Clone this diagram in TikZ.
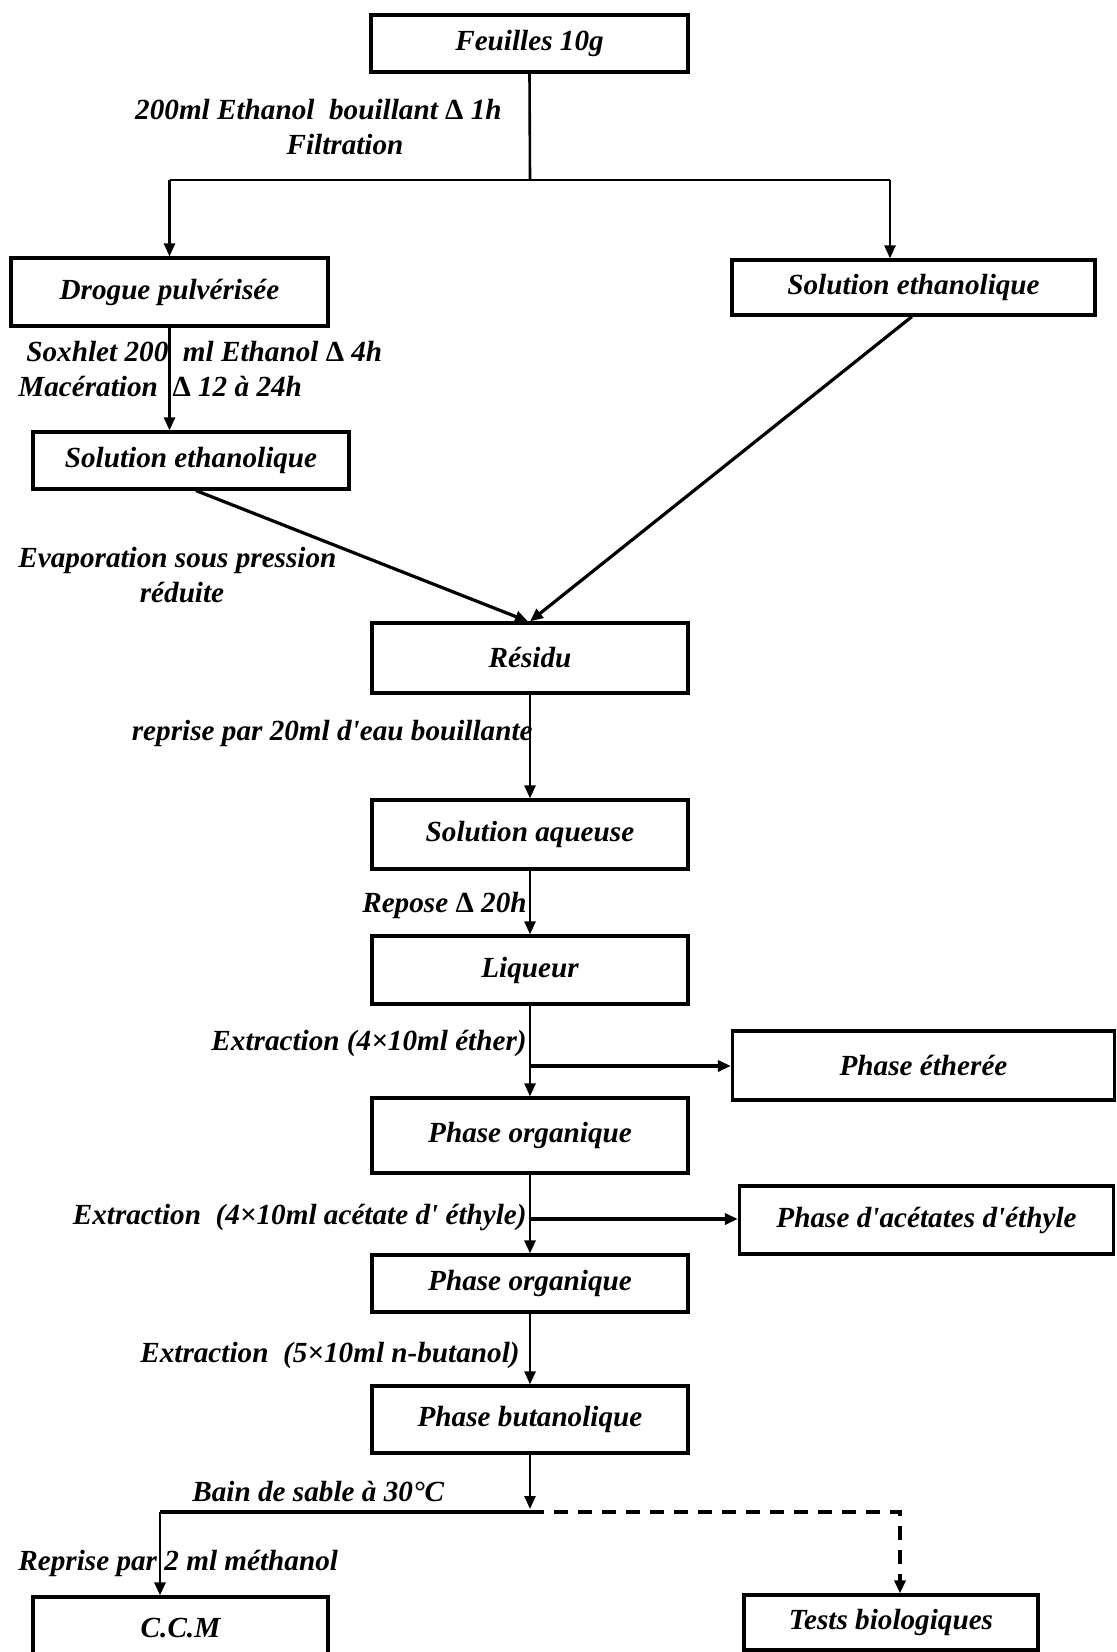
\documentclass[tikz,border=0pt]{standalone}
\usepackage{fontspec}
\setmainfont{Liberation Serif}
\usetikzlibrary{arrows.meta}
\newcommand\flowfont{\fontsize{14.6}{16.5}\selectfont\bfseries\itshape}
\newcommand\upD{{\upshape Δ}}
\newcommand\apos{\textquotesingle}
\begin{document}
\begin{tikzpicture}[x=0.5pt,y=-0.5pt,
  box/.style={draw, line width=1.6pt, inner sep=0pt, font=\flowfont},
  lab/.style={inner sep=0pt, font=\flowfont},
  conn/.style={line width=1.3pt},
  heavy/.style={line width=1.6pt},
  dashline/.style={line width=1.6pt, dash pattern=on 7pt off 5pt},
  arr/.style={-{Triangle[length=6.5pt,width=5.5pt]}}]
\fill[white] (0,0) rectangle (1117,1652);
\path[use as bounding box] (0,0) rectangle (1117,1652);
\clip (0,0) rectangle (1117,1652);

% boxes
\node[box, minimum width=158.5pt, minimum height=28.5pt] (feuilles) at (529.5,43.5) {Feuilles 10g};
\node[box, minimum width=158.5pt, minimum height=34pt] (drogue) at (169.5,292) {Drogue pulvérisée};
\node[box, minimum width=181.5pt, minimum height=27.5pt] (solR) at (913.5,287.5) {Solution ethanolique};
\node[box, minimum width=158pt, minimum height=28.5pt] (solL) at (191,460.5) {Solution ethanolique};
\node[box, minimum width=158pt, minimum height=35pt] (residu) at (530,658) {Résidu};
\node[box, minimum width=158pt, minimum height=34.5pt] (aqueuse) at (530,834.5) {Solution aqueuse};
\node[box, minimum width=158pt, minimum height=34pt] (liqueur) at (530,970) {Liqueur};
\node[box, minimum width=191pt, minimum height=34.5pt] (ether) at (923.5,1065.5) {Phase étherée};
\node[box, minimum width=158pt, minimum height=37.5pt] (org1) at (530,1135.5) {Phase organique};
\node[box, minimum width=187pt, minimum height=34pt] (acet) at (926.5,1220) {Phase d\apos acétates d\apos éthyle};
\node[box, minimum width=158pt, minimum height=28.5pt] (org2) at (530,1283.5) {Phase organique};
\node[box, minimum width=158pt, minimum height=33.5pt] (buta) at (530,1419.5) {Phase butanolique};
\node[box, minimum width=147.5pt, minimum height=31.5pt] (ccm) at (180.5,1628.5) {C.C.M};
\node[box, minimum width=147pt, minimum height=27.5pt] (tests) at (891,1622.5) {Tests biologiques};

% step labels
\node[lab, anchor=east] (l1) at (502,110) {200ml Ethanol\ \ bouillant \upD\ 1h};
\node[lab] (l1b) at (345,145) {Filtration};
\node[lab, anchor=west] (l2) at (26,352) {Soxhlet 200\ \ ml Ethanol \upD\ 4h};
\node[lab, anchor=west] (l3) at (18,387) {Macération\ \ \upD\ 12 à 24h};
\node[lab, anchor=west] (l4) at (18,560) {Evaporation sous pression};
\node[lab] (l4b) at (182,593) {réduite};
\node[lab, anchor=east] (l5) at (533,733) {reprise par 20ml d\apos eau bouillante};
\node[lab, anchor=east] (l6) at (527,905) {Repose \upD\ 20h};
\node[lab, anchor=east] (l7) at (527,1043) {Extraction (4×10ml éther)};
\node[lab, anchor=east] (l8) at (527,1217) {Extraction\ \ (4×10ml acétate d\apos\ éthyle)};
\node[lab, anchor=east] (l9) at (520,1355) {Extraction\ \ (5×10ml n-butanol)};
\node[lab, anchor=west] (l10) at (192,1492) {Bain de sable à 30°C};
\node[lab, anchor=west] (l11) at (18,1563) {Reprise par 2 ml méthanol};

% junction points
\coordinate (j1) at (530,180);
\coordinate (jL) at (169.5,180);
\coordinate (jR) at (890,180);
\coordinate (j2) at (530,1066);
\coordinate (j3) at (530,1219);
\coordinate (j4) at (530,1509);
\coordinate (j5) at (160,1512);
\coordinate (j6) at (900,1512);
\coordinate (j7) at (530,1512);

% connectors
\draw[conn] (feuilles.south) -- (j1);
\draw[conn] (jL) -- (jR);
\draw[conn,arr] (jL) -- (drogue.north);
\draw[conn,arr] (jR) -- (jR |- solR.north);
\draw[conn,arr] (drogue.south) -- (drogue.south |- solL.north);
\draw[heavy,arr] ([xshift=2.5pt]solL.south) -- ([xshift=-1pt]residu.north);
\draw[heavy,arr] ([xshift=-0.8pt]solR.south) -- (residu.north);
\draw[conn,arr] (residu.south) -- (aqueuse.north);
\draw[conn,arr] (aqueuse.south) -- (liqueur.north);
\draw[conn,arr] (liqueur.south) -- (org1.north);
\draw[heavy,arr] (j2) -- (j2 -| ether.west);
\draw[conn,arr] (org1.south) -- (org2.north);
\draw[heavy,arr] (j3) -- (j3 -| acet.west);
\draw[conn,arr] (org2.south) -- (buta.north);
\draw[conn,arr] (buta.south) -- (j4);
\draw[heavy] (j7) -- (j5);
\draw[conn,arr] (j5) -- (j5 |- ccm.north);
\draw[dashline,arr] (j7) -- (j6) -- (j6 |- tests.north);
\end{tikzpicture}
\end{document}
